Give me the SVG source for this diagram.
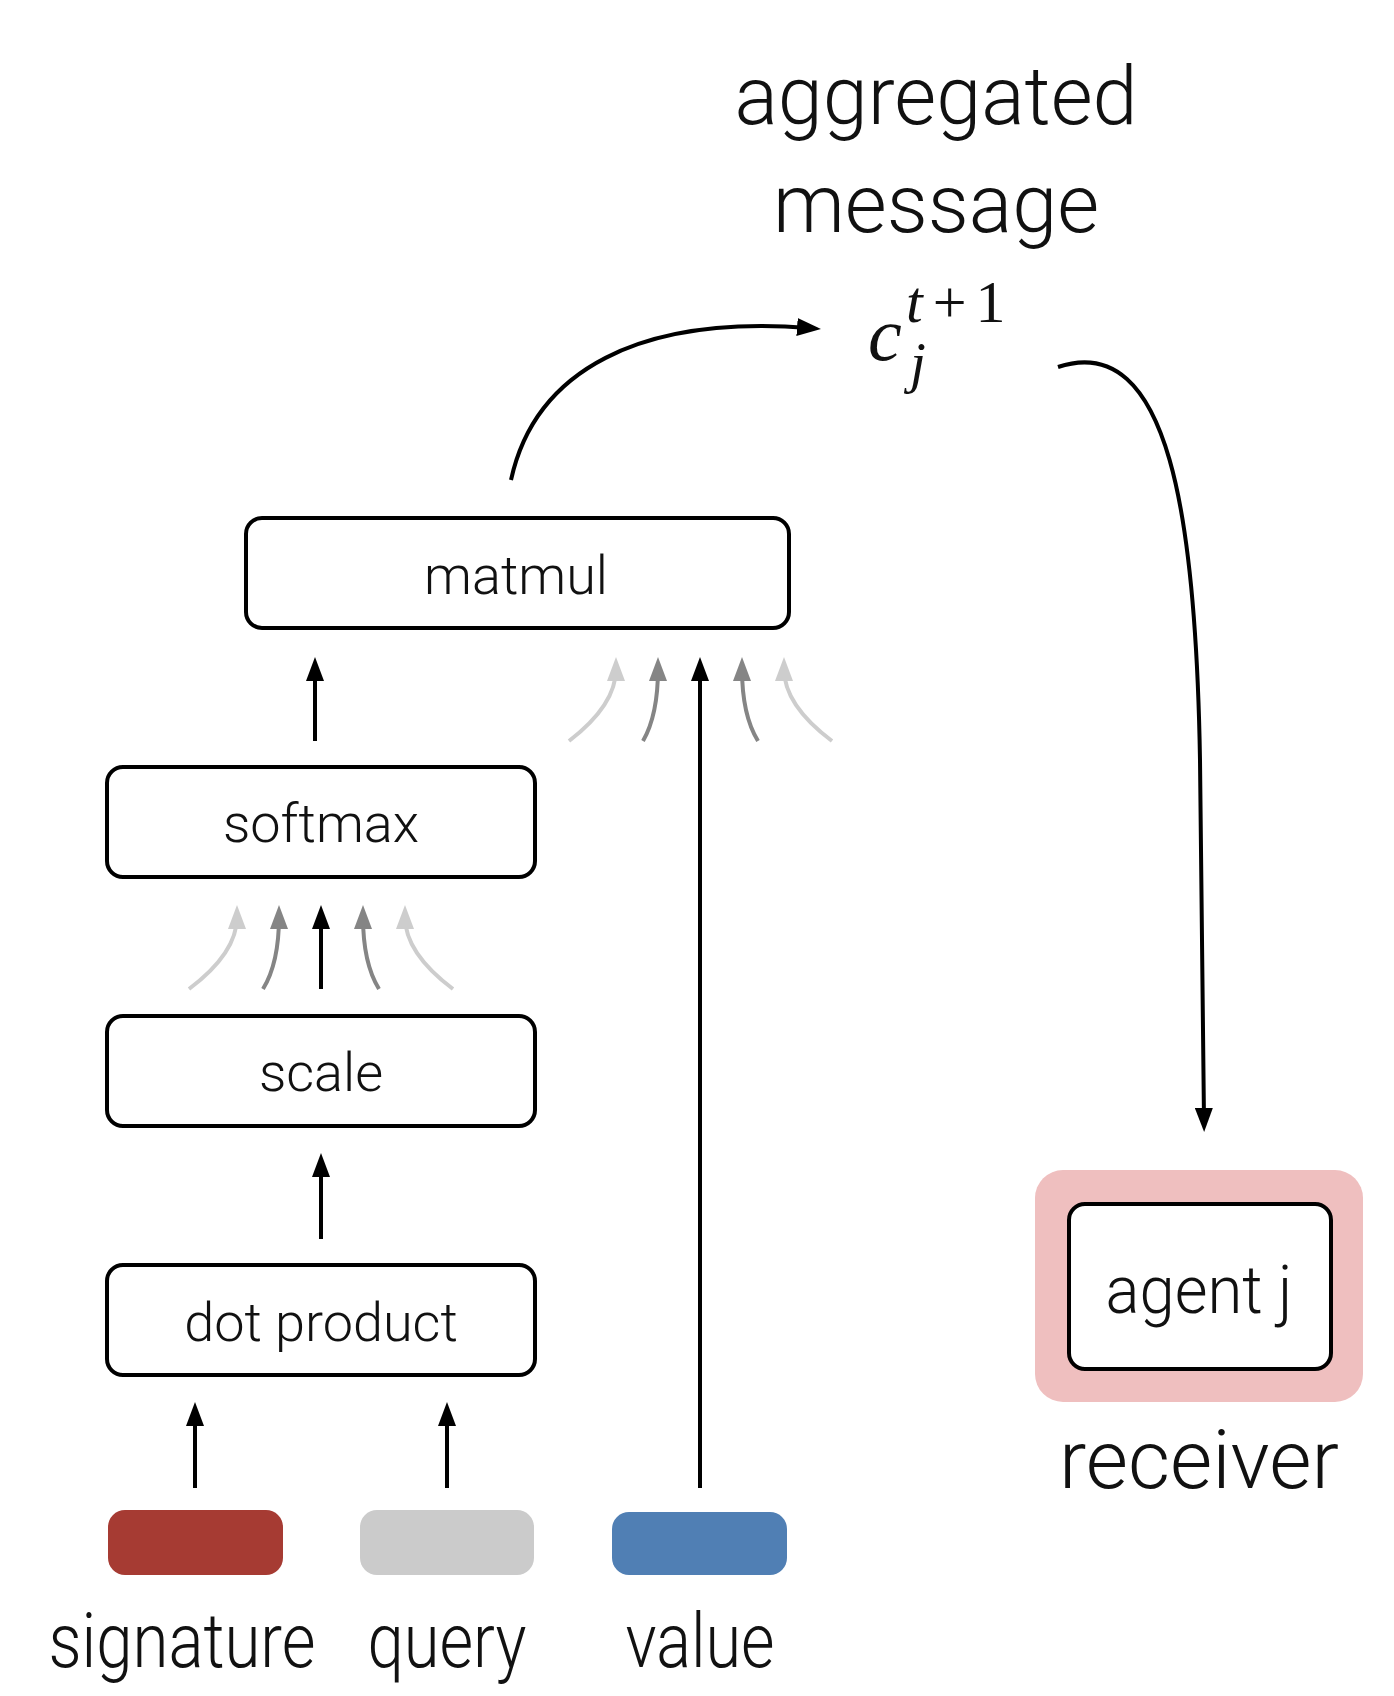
<svg xmlns="http://www.w3.org/2000/svg" width="1394" height="1696" viewBox="0 0 1394 1696">
<style>
.box{fill:#fff;stroke:#000;stroke-width:4}
.lbl{font-family:Roboto,"Liberation Sans",sans-serif;font-weight:300;font-size:54px;fill:#111;text-anchor:middle}
.big{font-family:Roboto,"Liberation Sans",sans-serif;font-weight:300;fill:#111;text-anchor:middle}
.math{font-family:"Liberation Serif","DejaVu Serif",serif;fill:#111}
.ln{fill:none;stroke-width:4}
.k{stroke:#000}
.g{stroke:#858585}
.l{stroke:#cdcdcd}
</style>
<defs>
<marker id="ak" markerUnits="userSpaceOnUse" viewBox="0 0 24 18" refX="12" refY="9" markerWidth="24" markerHeight="18" orient="auto"><path d="M0,0 L24,9 L0,18 z" fill="#000"/></marker>
<marker id="ag" markerUnits="userSpaceOnUse" viewBox="0 0 24 18" refX="12" refY="9" markerWidth="24" markerHeight="18" orient="auto"><path d="M0,0 L24,9 L0,18 z" fill="#858585"/></marker>
<marker id="al" markerUnits="userSpaceOnUse" viewBox="0 0 24 18" refX="12" refY="9" markerWidth="24" markerHeight="18" orient="auto"><path d="M0,0 L24,9 L0,18 z" fill="#cdcdcd"/></marker>
</defs>
<rect width="1394" height="1696" fill="#fff"/>

<g id="title">
<text class="big" x="936" y="124" font-size="81">aggregated</text>
<text class="big" x="936" y="232" font-size="81">message</text>
</g>
<g id="msg-symbol" class="math">
<text x="868" y="360" font-size="76" font-style="italic">c</text>
<text x="906" y="322" font-size="60"><tspan font-style="italic">t</tspan><tspan dx="10">+</tspan><tspan dx="9">1</tspan></text>
<text x="910" y="382" font-size="57" font-style="italic">j</text>
</g>

<g id="matmul"><rect class="box" x="246" y="518" width="543" height="110" rx="16"/><text class="lbl" x="516" y="594">matmul</text></g>
<g id="softmax"><rect class="box" x="107" y="767" width="428" height="110" rx="16"/><text class="lbl" x="321" y="842">softmax</text></g>
<g id="scale"><rect class="box" x="107" y="1016" width="428" height="110" rx="16"/><text class="lbl" x="321" y="1091">scale</text></g>
<g id="dot-product"><rect class="box" x="107" y="1265" width="428" height="110" rx="16"/><text class="lbl" x="321" y="1341">dot product</text></g>

<g id="signature"><rect x="108" y="1510" width="175" height="65" rx="17" fill="#a63b33"/><text class="big" x="182" y="1667" font-size="76" textLength="267" lengthAdjust="spacingAndGlyphs">signature</text></g>
<g id="query"><rect x="360" y="1510" width="174" height="65" rx="17" fill="#cbcbcb"/><text class="big" x="447" y="1667" font-size="76" textLength="159" lengthAdjust="spacingAndGlyphs">query</text></g>
<g id="value"><rect x="612" y="1512" width="175" height="63" rx="17" fill="#507fb4"/><text class="big" x="700" y="1667" font-size="76" textLength="149" lengthAdjust="spacingAndGlyphs">value</text></g>

<g id="agent-j">
<rect x="1035" y="1170" width="328" height="232" rx="28" fill="#efbfbf"/>
<rect class="box" x="1069" y="1204" width="262" height="165" rx="16"/>
<text class="big" x="1199" y="1313" font-size="66" textLength="187" lengthAdjust="spacingAndGlyphs">agent j</text>
<text class="big" x="1199" y="1488" font-size="82" textLength="280" lengthAdjust="spacingAndGlyphs">receiver</text>
</g>

<g id="connectors">
<path class="ln k" d="M195,1488 L195,1414" marker-end="url(#ak)"/>
<path class="ln k" d="M447,1488 L447,1414" marker-end="url(#ak)"/>
<path class="ln k" d="M321,1239 L321,1165" marker-end="url(#ak)"/>
<path class="ln l" d="M189,989 Q237,953 237,917" marker-end="url(#al)"/>
<path class="ln g" d="M263,989 Q279,963 279,917" marker-end="url(#ag)"/>
<path class="ln k" d="M321,989 L321,917" marker-end="url(#ak)"/>
<path class="ln g" d="M379,989 Q363,963 363,917" marker-end="url(#ag)"/>
<path class="ln l" d="M453,989 Q405,953 405,917" marker-end="url(#al)"/>
<path class="ln k" d="M315,741 L315,669" marker-end="url(#ak)"/>
<path class="ln l" d="M569,741 Q616,705 616,669" marker-end="url(#al)"/>
<path class="ln g" d="M643,741 Q658,715 658,669" marker-end="url(#ag)"/>
<path class="ln k" d="M700,1488 L700,669" marker-end="url(#ak)"/>
<path class="ln g" d="M758,741 Q742,715 742,669" marker-end="url(#ag)"/>
<path class="ln l" d="M832,741 Q784,705 784,669" marker-end="url(#al)"/>
<path class="ln k" stroke-width="3.5" d="M511,480 C535,370 640,315 809,328" marker-end="url(#ak)"/>
<path class="ln k" stroke-width="3.5" d="M1058,367 C1170,330 1196,520 1200,760 L1204,1120" marker-end="url(#ak)"/>
</g>
</svg>
